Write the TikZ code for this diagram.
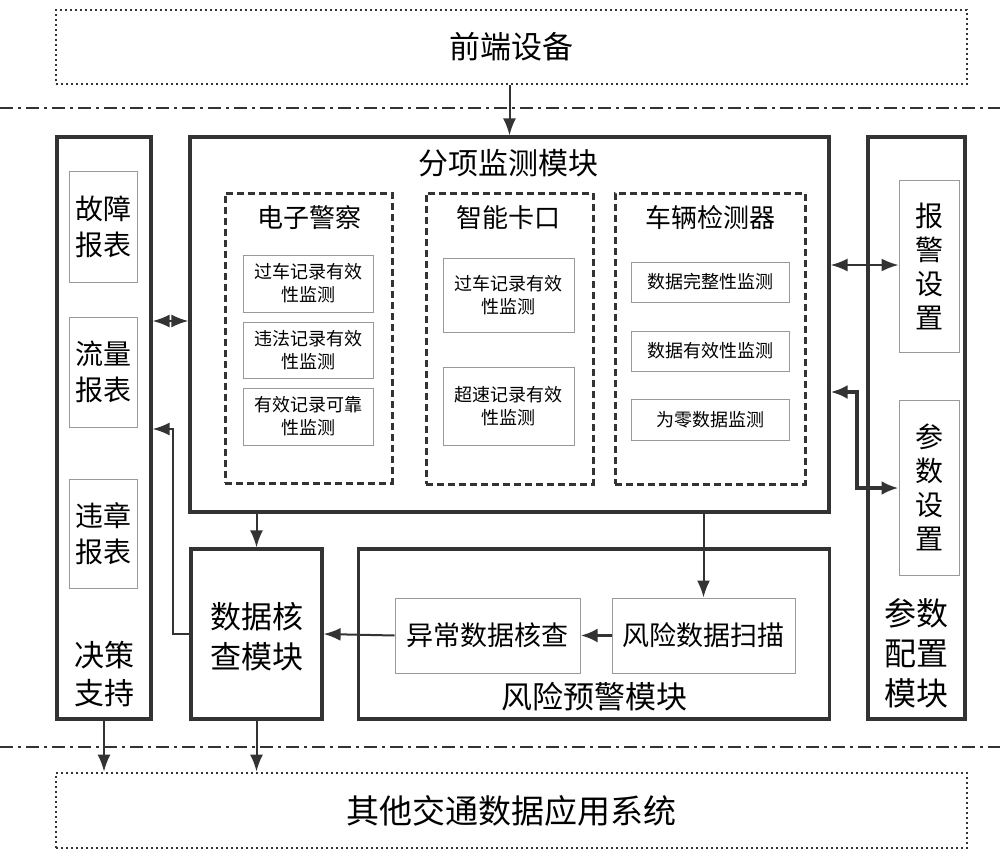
\documentclass[tikz,border=0pt]{standalone}
\usepackage{fontspec}
\setmainfont{Noto Sans CJK SC}
\usetikzlibrary{arrows.meta}
\definecolor{ln}{HTML}{333333}
\definecolor{thin}{HTML}{999999}
\newcommand{\fsz}[2]{\fontsize{#1}{#2}\selectfont}
\tikzset{
  dashbox/.style={draw=ln, line width=3pt, dash pattern=on 7pt off 4pt},
  thinbox/.style={draw=thin, line width=1pt, align=center},
  dotbox/.style={draw=ln, line width=2.8pt, dash pattern=on 1.8pt off 3.2pt},
  sepline/.style={draw=ln, line width=2.5pt, dash pattern=on 13pt off 5pt on 3pt off 5pt},
  arr/.style={draw=ln, line width=2pt, -{Latex[length=17pt,width=13pt]}},
  darr/.style={draw=ln, line width=2pt, {Latex[length=17pt,width=13pt]}-{Latex[length=17pt,width=13pt]}},
  tarr/.style={draw=ln, line width=3.5pt, -{Latex[length=17pt,width=14pt]}},
  tdarr/.style={draw=ln, line width=3.5pt, {Latex[length=17pt,width=14pt]}-{Latex[length=17pt,width=14pt]}},
  txt/.style={align=center, inner sep=0pt}
}
\begin{document}
\begin{tikzpicture}[x=1pt,y=-1pt]
\useasboundingbox (0,0) rectangle (1000,861);
% separators
\draw[sepline] (0,108) -- (1000,108);
\draw[sepline] (0,747) -- (1000,747);
% top and bottom dotted boxes
\node[dotbox, minimum width=911pt, minimum height=74pt, font=\fsz{31}{36}] (top) at (511.5,47) {前端设备};
\node[dotbox, minimum width=911pt, minimum height=75pt, font=\fsz{33}{38}] (bot) at (511.5,810.5) {其他交通数据应用系统};
% main frames
\node[draw=ln, line width=3.2pt, minimum width=94pt, minimum height=582pt] (L) at (104,428) {};
\node[draw=ln, line width=3.2pt, minimum width=639pt, minimum height=375pt] (M) at (509.5,324.5) {};
\node[draw=ln, line width=3.2pt, minimum width=97pt, minimum height=582pt] (R) at (916.5,428) {};
\node[draw=ln, line width=3.2pt, minimum width=131pt, minimum height=170pt] (D) at (256.5,634) {};
\node[draw=ln, line width=3.2pt, minimum width=471pt, minimum height=170pt] (K) at (594,634) {};
% left column
\node[thinbox, minimum width=68pt, minimum height=110pt, font=\fsz{28}{36}] (f1) at (103,227) {故障\\报表};
\node[thinbox, minimum width=68pt, minimum height=110pt, font=\fsz{28}{36}] (f2) at (103,372) {流量\\报表};
\node[thinbox, minimum width=68pt, minimum height=109pt, font=\fsz{28}{36}] (f3) at (103,533.5) {违章\\报表};
\node[txt, font=\fsz{30}{38}] (ltitle) at (104,674) {决策\\支持};
% right column
\node[thinbox, minimum width=60pt, minimum height=172pt, font=\fsz{28}{34}] (a1) at (929,266) {报\\警\\设\\置};
\node[thinbox, minimum width=60pt, minimum height=175pt, font=\fsz{28}{34}] (a2) at (929,487.5) {参\\数\\设\\置};
\node[txt, font=\fsz{32}{40}] (rtitle) at (916,653) {参数\\配置\\模块};
% main module
\node[txt, font=\fsz{30}{36}] (mtitle) at (508,163) {分项监测模块};
\node[dashbox, minimum width=167pt, minimum height=290pt] (E) at (308.5,338) {};
\node[dashbox, minimum width=167pt, minimum height=291pt] (Z) at (509.5,338.5) {};
\node[dashbox, minimum width=190pt, minimum height=291pt] (V) at (710,338.5) {};
\node[txt, font=\fsz{26}{30}] (Et) at (309,218) {电子警察};
\node[txt, font=\fsz{26}{30}] (Zt) at (508,218) {智能卡口};
\node[txt, font=\fsz{26}{30}] (Vt) at (710,218) {车辆检测器};
\node[thinbox, minimum width=130pt, minimum height=57pt, font=\fsz{18}{23}] (e1) at (308,283.5) {过车记录有效\\性监测};
\node[thinbox, minimum width=130pt, minimum height=56pt, font=\fsz{18}{23}] (e2) at (308,350) {违法记录有效\\性监测};
\node[thinbox, minimum width=130pt, minimum height=57pt, font=\fsz{18}{23}] (e3) at (308,416.5) {有效记录可靠\\性监测};
\node[thinbox, minimum width=131pt, minimum height=74pt, font=\fsz{18}{23}] (z1) at (508.5,295) {过车记录有效\\性监测};
\node[thinbox, minimum width=131pt, minimum height=78pt, font=\fsz{18}{23}] (z2) at (508.5,406) {超速记录有效\\性监测};
\node[thinbox, minimum width=158pt, minimum height=40pt, font=\fsz{18}{23}] (v1) at (710,282) {数据完整性监测};
\node[thinbox, minimum width=158pt, minimum height=40pt, font=\fsz{18}{23}] (v2) at (710,351) {数据有效性监测};
\node[thinbox, minimum width=158pt, minimum height=41pt, font=\fsz{18}{23}] (v3) at (710,419.5) {为零数据监测};
% check and risk modules
\node[txt, font=\fsz{31}{40}] (Dt) at (256.5,637) {数据核\\查模块};
\node[thinbox, minimum width=185pt, minimum height=75pt, font=\fsz{27}{32}] (S1) at (487.5,635.5) {异常数据核查};
\node[thinbox, minimum width=183pt, minimum height=75pt, font=\fsz{27}{32}] (S2) at (703.5,635.5) {风险数据扫描};
\node[txt, font=\fsz{31}{36}] (Kt) at (594,697) {风险预警模块};
% connectors
\draw[arr] (M.north |- top.south) -- (M.north);
\draw[darr] (L.east |- 0,321) -- (M.west |- 0,321);
\draw[darr] (M.east |- 0,265) -- (a1.west |- 0,265);
\draw[tdarr] (M.east |- 0,392) -- (857,392) -- (857,488) -- (a2.west |- 0,488);
\draw[arr] (D.north |- M.south) -- (D.north);
\draw[arr] (S2.north |- M.south) -- (S2.north);
\draw[tarr] (S2.west) -- (S1.east);
\draw[arr] (S1.west) -- (D.east);
\draw[arr] (D.west) -- (173,634) -- (173,429) -- (L.east |- 0,429);
\draw[arr] (L.south) -- (L.south |- bot.north);
\draw[arr] (D.south) -- (D.south |- bot.north);
\end{tikzpicture}
\end{document}
